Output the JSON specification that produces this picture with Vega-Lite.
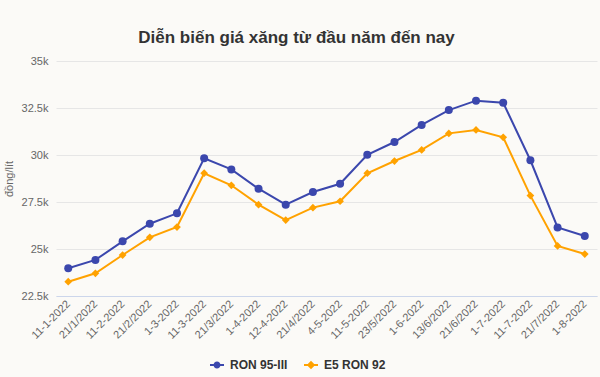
{
  "$schema": "https://vega.github.io/schema/vega-lite/v6.json",
  "width": 541,
  "height": 235,
  "autosize": {"type": "none"},
  "padding": {"left": 56, "top": 61, "right": 3, "bottom": 81},
  "background": "#fbfaf7",
  "title": {
    "text": "Diễn biến giá xăng từ đầu năm đến nay",
    "font": "Liberation Sans",
    "fontSize": 17,
    "fontWeight": "bold",
    "color": "#333333",
    "anchor": "middle",
    "dx": -30,
    "offset": 8
  },
  "config": {
    "view": {"stroke": null},
    "font": "Liberation Sans"
  },
  "data": {
    "values": [
      {"ngay": "11-1-2022", "loai": "RON 95-III", "gia": 23973},
      {"ngay": "21/1/2022", "loai": "RON 95-III", "gia": 24418},
      {"ngay": "11-2-2022", "loai": "RON 95-III", "gia": 25406},
      {"ngay": "21/2/2022", "loai": "RON 95-III", "gia": 26346},
      {"ngay": "1-3-2022", "loai": "RON 95-III", "gia": 26898},
      {"ngay": "11-3-2022", "loai": "RON 95-III", "gia": 29824},
      {"ngay": "21/3/2022", "loai": "RON 95-III", "gia": 29234},
      {"ngay": "1-4-2022", "loai": "RON 95-III", "gia": 28206},
      {"ngay": "12-4-2022", "loai": "RON 95-III", "gia": 27358},
      {"ngay": "21/4/2022", "loai": "RON 95-III", "gia": 28030},
      {"ngay": "4-5-2022", "loai": "RON 95-III", "gia": 28470},
      {"ngay": "11-5-2022", "loai": "RON 95-III", "gia": 30010},
      {"ngay": "23/5/2022", "loai": "RON 95-III", "gia": 30690},
      {"ngay": "1-6-2022", "loai": "RON 95-III", "gia": 31600},
      {"ngay": "13/6/2022", "loai": "RON 95-III", "gia": 32390},
      {"ngay": "21/6/2022", "loai": "RON 95-III", "gia": 32890},
      {"ngay": "1-7-2022", "loai": "RON 95-III", "gia": 32780},
      {"ngay": "11-7-2022", "loai": "RON 95-III", "gia": 29720},
      {"ngay": "21/7/2022", "loai": "RON 95-III", "gia": 26150},
      {"ngay": "1-8-2022", "loai": "RON 95-III", "gia": 25690},
      {"ngay": "11-1-2022", "loai": "E5 RON 92", "gia": 23260},
      {"ngay": "21/1/2022", "loai": "E5 RON 92", "gia": 23710},
      {"ngay": "11-2-2022", "loai": "E5 RON 92", "gia": 24680},
      {"ngay": "21/2/2022", "loai": "E5 RON 92", "gia": 25620},
      {"ngay": "1-3-2022", "loai": "E5 RON 92", "gia": 26170},
      {"ngay": "11-3-2022", "loai": "E5 RON 92", "gia": 29030},
      {"ngay": "21/3/2022", "loai": "E5 RON 92", "gia": 28390},
      {"ngay": "1-4-2022", "loai": "E5 RON 92", "gia": 27360},
      {"ngay": "12-4-2022", "loai": "E5 RON 92", "gia": 26540},
      {"ngay": "21/4/2022", "loai": "E5 RON 92", "gia": 27200},
      {"ngay": "4-5-2022", "loai": "E5 RON 92", "gia": 27540},
      {"ngay": "11-5-2022", "loai": "E5 RON 92", "gia": 29030},
      {"ngay": "23/5/2022", "loai": "E5 RON 92", "gia": 29680},
      {"ngay": "1-6-2022", "loai": "E5 RON 92", "gia": 30270},
      {"ngay": "13/6/2022", "loai": "E5 RON 92", "gia": 31150},
      {"ngay": "21/6/2022", "loai": "E5 RON 92", "gia": 31330},
      {"ngay": "1-7-2022", "loai": "E5 RON 92", "gia": 30940},
      {"ngay": "11-7-2022", "loai": "E5 RON 92", "gia": 27840},
      {"ngay": "21/7/2022", "loai": "E5 RON 92", "gia": 25160},
      {"ngay": "1-8-2022", "loai": "E5 RON 92", "gia": 24730}
    ]
  },
  "encoding": {
    "x": {
      "field": "ngay",
      "type": "ordinal",
      "sort": null,
      "scale": {"type": "point", "padding": 0.45},
      "axis": {
        "title": null,
        "labelAngle": -45,
        "labelAlign": "right",
        "labelBaseline": "middle",
        "labelFontSize": 11,
        "labelColor": "#666666",
        "labelPadding": 6,
        "ticks": false,
        "domainColor": "#ccd6eb",
        "domainWidth": 1,
        "grid": false
      }
    },
    "y": {
      "field": "gia",
      "type": "quantitative",
      "scale": {"domain": [22500, 35000], "nice": false, "zero": false},
      "axis": {
        "title": "đồng/lít",
        "titleFontSize": 11,
        "titleFontWeight": "normal",
        "titleColor": "#666666",
        "titlePadding": 7,
        "values": [22500, 25000, 27500, 30000, 32500, 35000],
        "labelExpr": "datum.value / 1000 + 'k'",
        "labelFontSize": 11,
        "labelColor": "#666666",
        "labelPadding": 8,
        "ticks": false,
        "domain": false,
        "grid": true,
        "gridColor": "#e6e6e6",
        "gridWidth": 1
      }
    },
    "color": {
      "field": "loai",
      "type": "nominal",
      "sort": ["RON 95-III", "E5 RON 92"],
      "scale": {"domain": ["RON 95-III", "E5 RON 92"], "range": ["#3b47ad", "#ffa200"]},
      "legend": {
        "title": null,
        "orient": "none",
        "direction": "horizontal",
        "legendX": 154,
        "legendY": 297,
        "labelFontSize": 12,
        "labelFontWeight": "bold",
        "labelColor": "#333333",
        "symbolSize": 196,
        "columnPadding": 16,
        "labelOffset": 6,
        "encode": {
          "symbols": {
            "update": {
              "shape": {"signal": "datum.value == 'RON 95-III' ? 'M-1,-0.14L1,-0.14L1,0.14L-1,0.14Z M-0.5,0A0.5,0.5 0 1,1 0.5,0A0.5,0.5 0 1,1 -0.5,0Z' : 'M-1,-0.14L1,-0.14L1,0.14L-1,0.14Z M0,-0.6L0.6,0L0,0.6L-0.6,0Z'"},
              "fill": {"signal": "datum.value == 'RON 95-III' ? '#3b47ad' : '#ffa200'"},
              "stroke": {"value": "transparent"},
              "strokeWidth": {"value": 0},
              "opacity": {"value": 1}
            }
          }
        }
      }
    }
  },
  "layer": [
    {
      "mark": {"type": "line", "strokeWidth": 2}
    },
    {
      "transform": [{"filter": "datum.loai == 'RON 95-III'"}],
      "mark": {"type": "point", "filled": true, "opacity": 1, "shape": "circle", "size": 64}
    },
    {
      "transform": [{"filter": "datum.loai == 'E5 RON 92'"}],
      "mark": {"type": "point", "filled": true, "opacity": 1, "shape": "diamond", "size": 60}
    }
  ]
}
